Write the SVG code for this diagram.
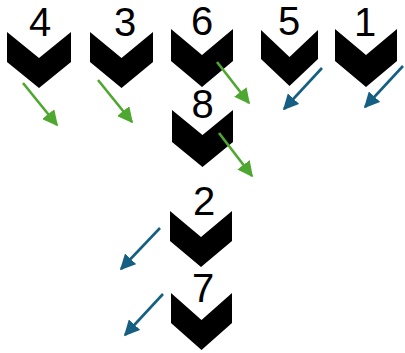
<svg xmlns="http://www.w3.org/2000/svg" width="405" height="353" viewBox="0 0 405 353">
<style>
.chev{fill:#000}
.lbl{font-family:"Liberation Sans",Arial,sans-serif;font-size:40px;fill:#000;text-anchor:middle}
.g{stroke:#4EA72E;stroke-width:2.6;fill:none}
.b{stroke:#156082;stroke-width:2.6;fill:none}
</style>
<defs>
<marker id="ag" markerWidth="6" markerHeight="6" refX="5.4" refY="3" orient="auto" markerUnits="strokeWidth" viewBox="0 0 6 6"><path d="M0,0 L6,3 L0,6 Z" fill="#4EA72E"/></marker>
<marker id="ab" markerWidth="6" markerHeight="6" refX="5.4" refY="3" orient="auto" markerUnits="strokeWidth" viewBox="0 0 6 6"><path d="M0,0 L6,3 L0,6 Z" fill="#156082"/></marker>
</defs>
<rect width="405" height="353" fill="#fff"/>
<g id="n4"><polygon class="chev" points="7,32 39,58 71,32 71,62 39,88 7,62"/><text class="lbl" x="40" y="36">4</text></g>
<g id="n3"><polygon class="chev" points="90,32 121.5,58 153,32 153,62 121.5,88 90,62"/><text class="lbl" x="125" y="36">3</text></g>
<g id="n6"><polygon class="chev" points="171,29 202,55 233,29 233,61 202,87 171,61"/><text class="lbl" x="202" y="35">6</text></g>
<g id="n5"><polygon class="chev" points="261,30 289.5,57 318,30 318,59 289.5,86 261,59"/><text class="lbl" x="289" y="35">5</text></g>
<g id="n1"><polygon class="chev" points="335,29 366,55 397,29 397,61 366,87 335,61"/><text class="lbl" x="365" y="36">1</text></g>
<g id="n8"><polygon class="chev" points="172,110 202.5,135 233,110 233,142 202.5,167 172,142"/><text class="lbl" x="202.5" y="118">8</text></g>
<g id="n2"><polygon class="chev" points="170,211 201,237 232,211 232,241 201,267 170,241"/><text class="lbl" x="204" y="215">2</text></g>
<g id="n7"><polygon class="chev" points="171,293 201.5,320 232,293 232,323 201.5,350 171,323"/><text class="lbl" x="203" y="302">7</text></g>
<g id="connectors">
<line class="g" x1="23" y1="83" x2="57" y2="125" marker-end="url(#ag)"/>
<line class="g" x1="98" y1="80" x2="132" y2="122" marker-end="url(#ag)"/>
<line class="g" x1="217" y1="62" x2="249" y2="103" marker-end="url(#ag)"/>
<line class="g" x1="219" y1="133" x2="252" y2="176" marker-end="url(#ag)"/>
<line class="b" x1="322" y1="68" x2="284" y2="109" marker-end="url(#ab)"/>
<line class="b" x1="403" y1="66" x2="365" y2="107" marker-end="url(#ab)"/>
<line class="b" x1="160" y1="228" x2="121" y2="269" marker-end="url(#ab)"/>
<line class="b" x1="163" y1="294" x2="125" y2="335" marker-end="url(#ab)"/>
</g>
</svg>
